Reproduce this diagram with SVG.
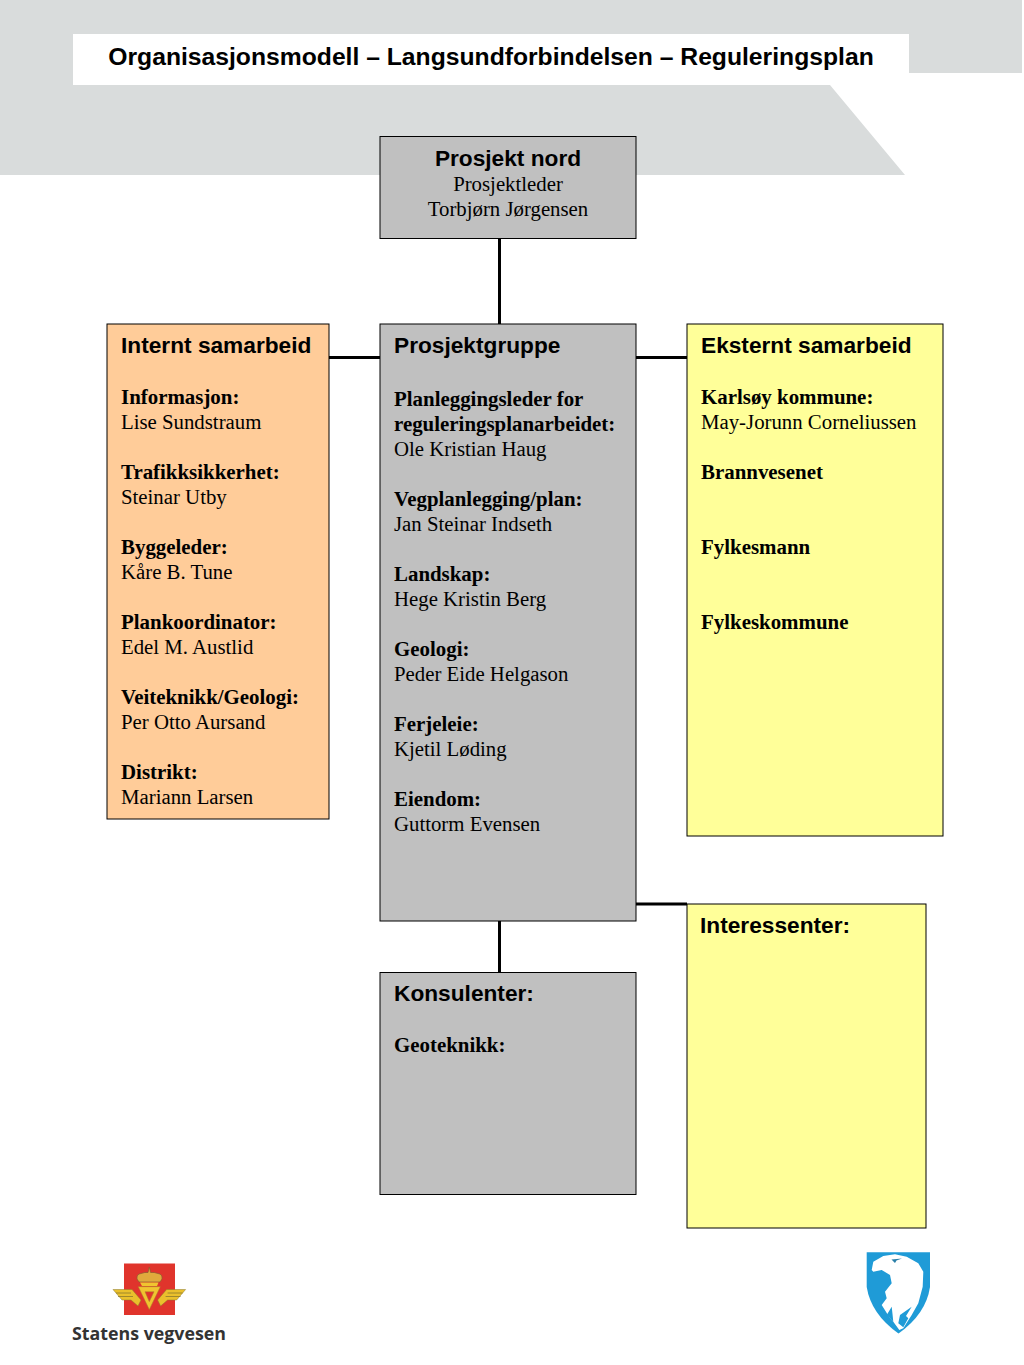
<svg xmlns="http://www.w3.org/2000/svg" width="1024" height="1365" viewBox="0 0 1024 1365">
<style>
.box{stroke:#000;stroke-width:1}
.grey{fill:#c0c0c0}.yellow{fill:#ffff99}.orange{fill:#ffcc99}
.h{font-family:"Liberation Sans",Arial,sans-serif;font-size:22.7px;font-weight:bold;fill:#000}
.b{font-family:"Liberation Serif","Times New Roman",serif;font-size:20.9px;font-weight:bold;fill:#000}
.t{font-family:"Liberation Serif","Times New Roman",serif;font-size:20.8px;fill:#000}
.c{stroke:#000;stroke-width:3;fill:none}
</style>
<rect width="1024" height="1365" fill="#fff"/>
<g id="background">
<path d="M0 0H1022V73H909V34H73V85H830L905 175H0Z" fill="#d9dcdc"/>
</g>
<g id="title">
<rect x="73" y="34" width="836" height="51" fill="#fff"/>
<text x="491" y="65" text-anchor="middle" font-family="Liberation Sans,Arial,sans-serif" font-size="24.7px" font-weight="bold">Organisasjonsmodell – Langsundforbindelsen – Reguleringsplan</text>
</g>
<g id="connectors">
<path class="c" d="M499.500 239V324"/>
<path class="c" d="M329 357.500H380"/>
<path class="c" d="M636 357.500H687"/>
<path class="c" d="M636 904H687"/>
<path class="c" d="M499.500 921V972"/>
</g>
<g id="prosjekt-nord">
<rect class="box grey" x="380" y="136.500" width="256" height="102"/>
<text class="h" x="508" y="166" text-anchor="middle">Prosjekt nord</text>
<text class="t" x="508" y="191" text-anchor="middle">Prosjektleder</text>
<text class="t" x="508" y="216" text-anchor="middle">Torbjørn Jørgensen</text>
</g>
<g id="internt-samarbeid">
<rect class="box orange" x="107" y="324" width="222" height="495"/>
<text class="h" x="121" y="353">Internt samarbeid</text>
<text class="b" x="121" y="404">Informasjon:</text>
<text class="t" x="121" y="429">Lise Sundstraum</text>
<text class="b" x="121" y="479">Trafikksikkerhet:</text>
<text class="t" x="121" y="504">Steinar Utby</text>
<text class="b" x="121" y="554">Byggeleder:</text>
<text class="t" x="121" y="579">Kåre B. Tune</text>
<text class="b" x="121" y="629">Plankoordinator:</text>
<text class="t" x="121" y="654">Edel M. Austlid</text>
<text class="b" x="121" y="704">Veiteknikk/Geologi:</text>
<text class="t" x="121" y="729">Per Otto Aursand</text>
<text class="b" x="121" y="779">Distrikt:</text>
<text class="t" x="121" y="804">Mariann Larsen</text>
</g>
<g id="prosjektgruppe">
<rect class="box grey" x="380" y="324" width="256" height="597"/>
<text class="h" x="394" y="353">Prosjektgruppe</text>
<text class="b" x="394" y="406">Planleggingsleder for</text>
<text class="b" x="394" y="431">reguleringsplanarbeidet:</text>
<text class="t" x="394" y="456">Ole Kristian Haug</text>
<text class="b" x="394" y="506">Vegplanlegging/plan:</text>
<text class="t" x="394" y="531">Jan Steinar Indseth</text>
<text class="b" x="394" y="581">Landskap:</text>
<text class="t" x="394" y="606">Hege Kristin Berg</text>
<text class="b" x="394" y="656">Geologi:</text>
<text class="t" x="394" y="681">Peder Eide Helgason</text>
<text class="b" x="394" y="731">Ferjeleie:</text>
<text class="t" x="394" y="756">Kjetil Løding</text>
<text class="b" x="394" y="806">Eiendom:</text>
<text class="t" x="394" y="831">Guttorm Evensen</text>
</g>
<g id="eksternt-samarbeid">
<rect class="box yellow" x="687" y="324" width="256" height="512"/>
<text class="h" x="701" y="353">Eksternt samarbeid</text>
<text class="b" x="701" y="404">Karlsøy kommune:</text>
<text class="t" x="701" y="429">May-Jorunn Corneliussen</text>
<text class="b" x="701" y="479">Brannvesenet</text>
<text class="b" x="701" y="554">Fylkesmann</text>
<text class="b" x="701" y="629">Fylkeskommune</text>
</g>
<g id="interessenter">
<rect class="box yellow" x="687" y="904" width="239" height="324"/>
<text class="h" x="700" y="933">Interessenter:</text>
</g>
<g id="konsulenter">
<rect class="box grey" x="380" y="972.500" width="256" height="222"/>
<text class="h" x="394" y="1001">Konsulenter:</text>
<text class="b" x="394" y="1052">Geoteknikk:</text>
</g>
<g id="logo-vegvesen">
<rect x="124" y="1263.500" width="51" height="51.500" fill="#e0342c"/>
<path d="M113 1289.500H132L141 1300L138 1306L131 1300H122ZM185.600 1289.500H166.600L157.600 1300L160.600 1306L167.600 1300H176.600Z" fill="#eac02c" stroke="#8d7a2c" stroke-width=".5"/>
<path d="M116 1293H131M118 1296.500H133M182.600 1293H167.600M180.600 1296.500H165.600" stroke="#8d7a2c" stroke-width=".8" fill="none"/>
<path d="M138.300 1286.700H160.300L149.300 1309.500ZM145 1291.700L149.300 1301.700L154 1291.700Z" fill="#f0c430" fill-rule="evenodd" stroke="#a8862c" stroke-width=".5"/>
<path d="M137 1279Q136.500 1274 141 1273.500Q145 1272 148 1272.500L149.300 1267L150.600 1272.500Q154 1272 158 1273.500Q162.500 1274 162 1279L160 1282H139Z" fill="#e0aa3c" stroke="#8a5a30" stroke-width=".7"/>
<path d="M140 1282.500H158.500L157 1286H142Z" fill="#f0c430"/>
<text x="149" y="1340" text-anchor="middle" font-family="Open Sans,Noto Sans,sans-serif" font-size="17.800px" font-weight="bold" fill="#333">Statens vegvesen</text>
</g>
<g id="logo-shield">
<path d="M866.700 1252.300H930V1287Q926 1314 898.500 1333.500Q871 1314 866.700 1287Z" fill="#1f9bd7"/>
<path d="M871.700 1270L873.300 1261.700L883.300 1256L895 1254.300L906.700 1256.700L918.300 1263.300L923.300 1271.700L922.700 1286.700L918.300 1303.300L911.700 1315L903.300 1328.300L899.300 1330L893.300 1321.700L890 1318.300L881.700 1305L886.700 1298.300L885 1291.700L891.700 1283.300L890 1275L881.700 1270L873.300 1271.700Z" fill="#fff"/>
<path d="M891.700 1306.700L886.700 1315L893.300 1321.700L892.500 1314ZM911.700 1306.700L900 1315L898.300 1323.300L903.300 1327.300L908.300 1318.300L906 1316Z" fill="#1f9bd7"/>
<path d="M891.500 1259.500L902 1258.500L896.500 1260.500L895 1263Z" fill="#2a7fa8"/>
</g>
</svg>
